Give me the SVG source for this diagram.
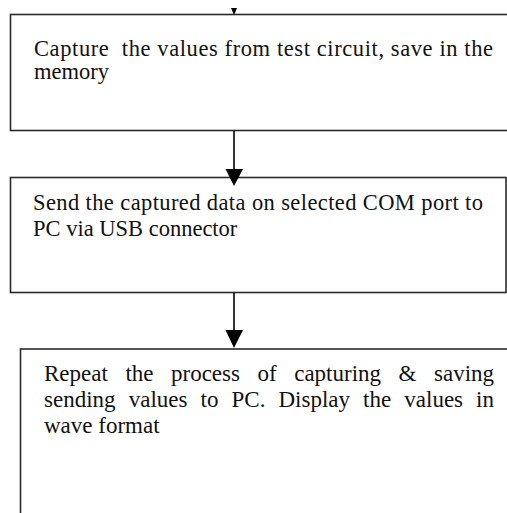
<svg xmlns="http://www.w3.org/2000/svg" width="507" height="513" viewBox="0 0 507 513">
<style>
.box{fill:#fff;stroke:#2a2a2a;stroke-width:1.6}
.t{font-family:"Liberation Serif","Times New Roman",serif;fill:#111}
.c{stroke:#000;stroke-width:1.6;fill:none}
.h{fill:#000;stroke:none}
</style>
<rect width="507" height="513" fill="#fff"/>
<g id="node1">
<rect class="box" x="10.5" y="14.5" width="510" height="116"/>
<text class="t" font-size="22.5" x="34" y="56" textLength="459" lengthAdjust="spacing" style="white-space:pre">Capture  the values from test circuit, save in the</text>
<text class="t" font-size="22.5" x="34" y="79">memory</text>
</g>
<g id="node2">
<rect class="box" x="10.5" y="177.5" width="495.5" height="115"/>
<text class="t" font-size="22.5" x="33" y="210" textLength="450" lengthAdjust="spacing">Send the captured data on selected COM port to</text>
<text class="t" font-size="22.5" x="33" y="236">PC via USB connector</text>
</g>
<g id="node3">
<rect class="box" x="20.5" y="349" width="500" height="180"/>
<text class="t" font-size="23" y="381"><tspan x="44">Repeat</tspan><tspan x="125.4">the</tspan><tspan x="171">process</tspan><tspan x="257.5">of</tspan><tspan x="294.2">capturing</tspan><tspan x="398.6">&amp;</tspan><tspan x="434">saving</tspan></text>
<text class="t" font-size="23" y="407"><tspan x="44">sending</tspan><tspan x="128.7">values</tspan><tspan x="200.5">to</tspan><tspan x="231.5">PC.</tspan><tspan x="278.5">Display</tspan><tspan x="363.1">the</tspan><tspan x="404.3">values</tspan><tspan x="476.1">in</tspan></text>
<text class="t" font-size="23" x="44" y="433">wave format</text>
</g>
<g id="connectors">
<polygon class="h" points="231,8 237,8 234,15"/>
<line class="c" x1="234" y1="131" x2="234" y2="170"/>
<polygon class="h" points="225.5,169 243,169 234,186"/>
<line class="c" x1="234" y1="293" x2="234" y2="331"/>
<polygon class="h" points="225.5,330 243,330 234,348"/>
</g>
</svg>
